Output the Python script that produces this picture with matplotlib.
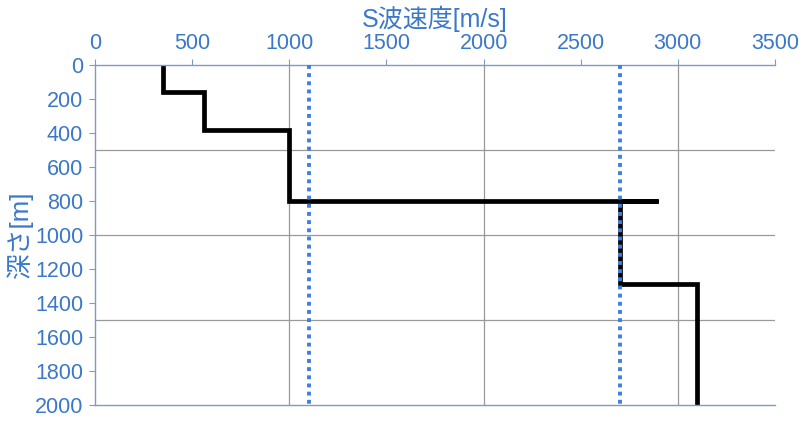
import matplotlib
matplotlib.use("Agg")
import matplotlib.pyplot as plt

plt.rcParams['font.family'] = ['Liberation Sans', 'Noto Sans CJK JP', 'DejaVu Sans']

# step profile: S-wave velocity vs depth
vs = [350, 350, 560, 560, 1000, 1000, 2900, 2700, 2700, 3100, 3100]
depth = [0, 160, 160, 380, 380, 800, 800, 800, 1290, 1290, 2000]
# reference velocities (dotted)
ref_vs = [1100, 2700]

BLUE = '#3b78c9'
SPINE = '#7f9cc0'

fig = plt.figure(figsize=(8.09, 4.23), dpi=100)
ax = fig.add_axes([95 / 809, 1 - 405 / 423, 680 / 809, 340 / 423])

for v in ref_vs:
    ax.plot([v, v], [0, 2000], color='#3f80dc', lw=2.8, ls=(0, (1, 1.1)), zorder=3)
ax.plot(vs, depth, color='black', lw=3.4, zorder=2, solid_joinstyle='miter')

ax.set_xlim(0, 3500)
ax.set_ylim(2000, 0)
ax.xaxis.tick_top()
ax.set_xticks(range(0, 3501, 500))
ax.set_yticks(range(0, 2001, 200))

for v in range(1000, 3001, 1000):
    ax.axvline(v, color='#999999', lw=0.9, zorder=1)
for d in range(500, 1501, 500):
    ax.axhline(d, color='#999999', lw=0.9, zorder=1)

ax.spines['right'].set_visible(False)
for s in ['top', 'left', 'bottom']:
    ax.spines[s].set_color(SPINE)
    ax.spines[s].set_linewidth(1.0)

ax.tick_params(axis='both', colors=SPINE, labelcolor=BLUE, labelsize=15.5, length=4, width=0.8)
ax.tick_params(axis='x', pad=4)
ax.tick_params(axis='y', pad=4.5)

fig.text(435 / 809, 1 - 19 / 423, 'S波速度[m/s]', color=BLUE, fontsize=18,
         ha='center', va='center')
fig.text(20 / 809, 1 - 235 / 423, '深さ[m]', color=BLUE, fontsize=18.5,
         ha='center', va='center', rotation=90)

fig.savefig('out.png', dpi=100)
